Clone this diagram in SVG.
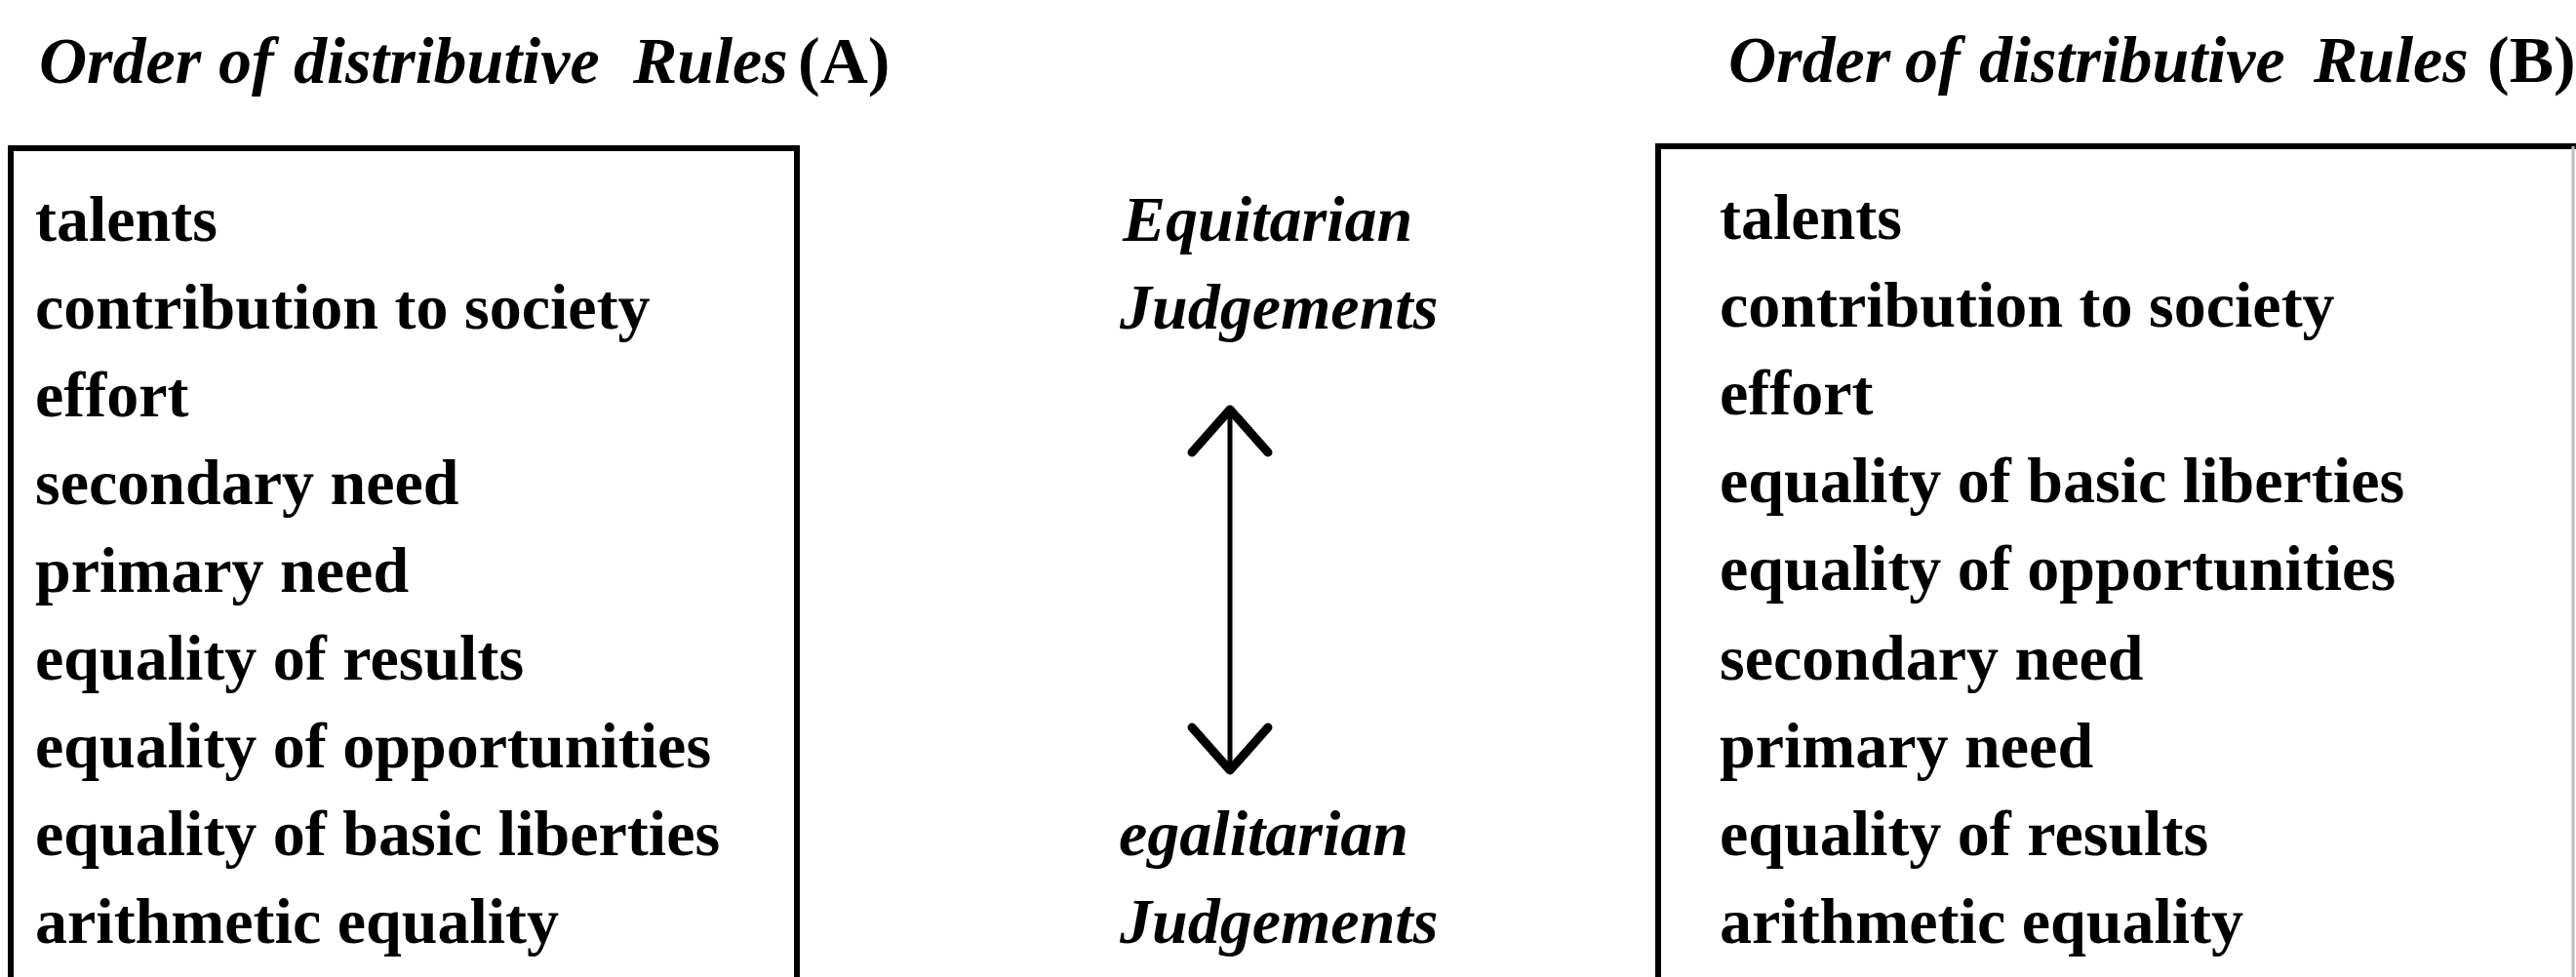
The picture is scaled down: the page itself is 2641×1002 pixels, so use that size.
<svg xmlns="http://www.w3.org/2000/svg" width="2641" height="1002" viewBox="0 0 2641 1002">
  <style>
    .title { font-family: "Liberation Serif", "Times New Roman", serif; font-size: 68px; font-style: italic; font-weight: bold; fill: #000; }
    .title .up { font-style: normal; }
    .row { font-family: "Liberation Serif", "Times New Roman", serif; font-size: 66px; font-weight: bold; fill: #000; }
    .judge { font-family: "Liberation Serif", "Times New Roman", serif; font-size: 66px; font-weight: bold; font-style: italic; fill: #000; }
    .box { fill: none; stroke: #000; stroke-width: 6; }
    .shaft { fill: none; stroke: #000; stroke-width: 5; }
  </style>
  <defs>
    <marker id="vhead" markerUnits="userSpaceOnUse" markerWidth="120" markerHeight="120" viewBox="-60 -60 120 120" refX="0" refY="0" orient="auto-start-reverse" overflow="visible">
      <path d="M -44 -39 L 0 0 L -44 39" fill="none" stroke="#000" stroke-width="9" stroke-linecap="round" stroke-linejoin="round"/>
    </marker>
  </defs>
  <rect width="2641" height="1002" fill="#fff"/>

  <g id="titleA">
    <text class="title" y="85"><tspan x="40">Order</tspan><tspan x="224">of</tspan><tspan x="301">distributive</tspan><tspan x="649">Rules</tspan><tspan class="up" x="818">(A)</tspan></text>
  </g>
  <g id="titleB">
    <text class="title" y="84"><tspan x="1772">Order</tspan><tspan x="1953">of</tspan><tspan x="2029">distributive</tspan><tspan x="2372">Rules</tspan><tspan class="up" x="2550">(B)</tspan></text>
  </g>

  <g id="boxA">
    <path class="box" d="M11 1012 V152 H817 V1012"/>
    <text class="row" x="36" y="247">talents</text>
    <text class="row" x="36" y="337">contribution to society</text>
    <text class="row" x="36" y="427">effort</text>
    <text class="row" x="36" y="517">secondary need</text>
    <text class="row" x="36" y="607">primary need</text>
    <text class="row" x="36" y="697">equality of results</text>
    <text class="row" x="36" y="787">equality of opportunities</text>
    <text class="row" x="36" y="877">equality of basic liberties</text>
    <text class="row" x="36" y="967">arithmetic equality</text>
  </g>

  <g id="equitarian">
    <text class="judge" x="1151" y="247">Equitarian</text>
    <text class="judge" x="1148" y="337">Judgements</text>
  </g>

  <g id="egalitarian">
    <text class="judge" x="1147" y="877">egalitarian</text>
    <text class="judge" x="1148" y="967">Judgements</text>
  </g>

  <g id="boxB">
    <path class="box" d="M1700 1012 V150 H2641"/>
    <line x1="2638" y1="150" x2="2638" y2="1002" stroke="#bdbdbd" stroke-width="3"/>
    <text class="row" x="1763" y="245">talents</text>
    <text class="row" x="1763" y="335">contribution to society</text>
    <text class="row" x="1763" y="425">effort</text>
    <text class="row" x="1763" y="515">equality of basic liberties</text>
    <text class="row" x="1763" y="605">equality of opportunities</text>
    <text class="row" x="1763" y="697">secondary need</text>
    <text class="row" x="1763" y="787">primary need</text>
    <text class="row" x="1763" y="877">equality of results</text>
    <text class="row" x="1763" y="967">arithmetic equality</text>
  </g>

  <g id="connectors">
    <path class="shaft" d="M1261 420 L1261 790" marker-start="url(#vhead)" marker-end="url(#vhead)"/>
  </g>
</svg>
